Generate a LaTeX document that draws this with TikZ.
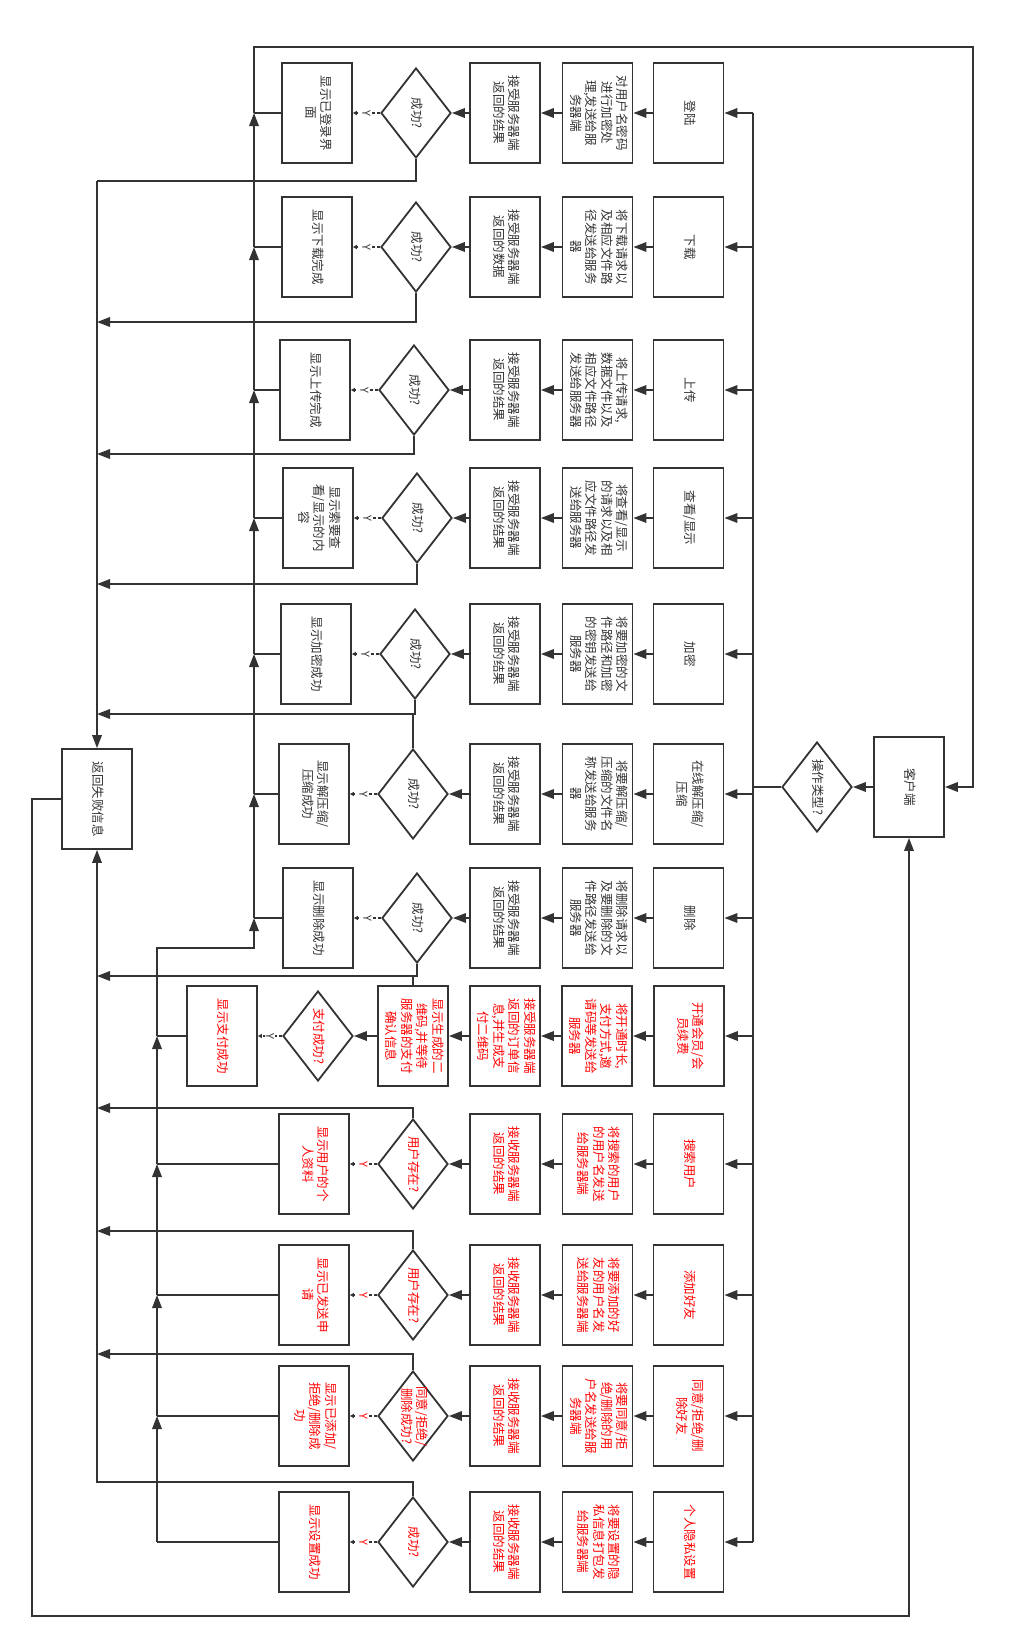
\documentclass[tikz,border=0pt]{standalone}
\usepackage{fontspec}
\usepackage{graphicx}
\usetikzlibrary{shapes.geometric,arrows.meta}
\newfontfamily\cjk{Noto Sans CJK SC}
\definecolor{lc}{HTML}{333333}
\definecolor{rd}{HTML}{FF0000}
\newcommand\rt[1]{\rotatebox{-90}{\begin{tabular}{@{}c@{}}#1\end{tabular}}}
% #1 name, #2 y, #3 colour, #4 dx, #5 op, #6 process, #7 receive, #8 decision, #9 result
\newcommand\flowrow[9]{%
 \node[box,text=#3] (op#1) at (688.5,#2) {\rt{#5}};
 \node[box,text=#3] (pr#1) at (597.5,#2) {\rt{#6}};
 \node[box,text=#3] (rc#1) at (505,#2) {\rt{#7}};
 \node[dia] (dm#1) at ({416+#4},#2) {};
 \node[text=#3] (dmt#1) at (dm#1.center) {\rt{#8}};
 \node[box,text=#3] (rs#1) at ({317+#4},#2) {\rt{#9}};
 \coordinate (b#1) at (753,#2);
 \draw[arr] (b#1) -- (op#1.east);
 \draw[arr] (op#1.west) -- (pr#1.east);
 \draw[arr] (pr#1.west) -- (rc#1.east);
 \draw[arr] (rc#1.west) -- (dm#1.east);
 \draw[ydash] (dm#1.west) -- node[ylab,text=#3] (y#1) {\rotatebox{-90}{Y}} (rs#1.east);
}
\begin{document}
\begin{tikzpicture}[x=1pt,y=-1pt,
 every node/.style={font=\cjk\fontsize{12.5}{15.5}\selectfont},
 box/.style={draw=lc, line width=1.8pt, minimum width=70pt, minimum height=100pt, inner sep=0pt, text=lc},
 dia/.style={diamond, draw=lc, line width=1.8pt, minimum width=70pt, minimum height=90pt, inner sep=0pt},
 ln/.style={draw=lc, line width=1.8pt},
 arr/.style={ln, -{Triangle[length=13pt,width=9.5pt]}},
 ydash/.style={draw=lc, line width=1.4pt, dash pattern=on 3pt off 2.5pt, -{Triangle[length=4pt,width=4pt]}},
 ylab/.style={fill=white, inner sep=1pt, font=\cjk\fontsize{11}{13}\selectfont},
]
\fill[white] (0,0) rectangle (1022,1647);
\useasboundingbox (0,0) rectangle (1022,1647);

% client, decision, failure box
\node[box] (client) at (909,787) {\rt{客户端}};
\node[dia] (dm0) at (817,787) {};
\node[text=lc] (dmt0) at (dm0.center) {\rt{操作类型?}};
\node[box] (fail) at (97,799) {\rt{返回失败信息}};

\flowrow{1}{113}{lc}{0}{登陆}{对用户名密码\\进行加密处\\理,发送给服\\务器端}{接受服务器端\\返回的结果}{成功?}{显示已登录界\\面}
\flowrow{2}{247}{lc}{0}{下载}{将下载请求以\\及相应文件路\\径发送给服务\\器}{接受服务器端\\返回的数据}{成功?}{显示下载完成}
\flowrow{3}{390}{lc}{-2}{上传}{将上传请求,\\数据文件以及\\相应文件路径\\发送给服务器}{接受服务器端\\返回的结果}{成功?}{显示上传完成}
\flowrow{4}{518}{lc}{1}{查看/显示}{将查看/显示\\的请求以及相\\应文件路径发\\送给服务器}{接受服务器端\\返回的结果}{成功?}{显示索要查\\看/显示的内\\容}
\flowrow{5}{654}{lc}{-1}{加密}{将要加密的文\\件路径和加密\\的密钥发送给\\服务器}{接受服务器端\\返回的结果}{成功?}{显示加密成功}
\flowrow{6}{794}{lc}{-3}{在线解压缩/\\压缩}{将要解压缩/\\压缩的文件名\\称发送给服务\\器}{接受服务器端\\返回的结果}{成功?}{显示解压缩/\\压缩成功}
\flowrow{7}{918}{lc}{1}{删除}{将删除请求以\\及要删除的文\\件路径发送给\\服务器}{接受服务器端\\返回的结果}{成功?}{显示删除成功}

% row 8 (membership)
\node[box,text=rd] (op8) at (689,1036) {\rt{开通会员/会\\员续费}};
\node[box,text=rd] (pr8) at (597,1036) {\rt{将开通时长,\\支付方式,邀\\请码等发送给\\服务器}};
\node[box,text=rd] (rc8) at (505,1036) {\rt{接受服务器端\\返回的订单信\\息,并生成支\\付二维码}};
\node[box,text=rd] (qr8) at (413,1036) {\rt{显示生成的二\\维码,并等待\\服务器的支付\\确认信息}};
\node[dia] (dm8) at (318,1036) {};
\node[text=rd] (dmt8) at (dm8.center) {\rt{支付成功?}};
\node[box,text=rd] (rs8) at (222,1036) {\rt{显示支付成功}};
\coordinate (b8) at (753,1036);
\draw[arr] (b8) -- (op8.east);
\draw[arr] (op8.west) -- (pr8.east);
\draw[arr] (pr8.west) -- (rc8.east);
\draw[arr] (rc8.west) -- (qr8.east);
\draw[arr] (qr8.west) -- (dm8.east);
\draw[ydash] (dm8.west) -- node[ylab,text=lc] (y8) {\rotatebox{-90}{Y}} (rs8.east);

\flowrow{9}{1164}{rd}{-3}{搜索用户}{将搜索的用户\\的用户名发送\\给服务器端}{接收服务器端\\返回的结果}{用户存在?}{显示用户的个\\人资料}
\flowrow{10}{1295}{rd}{-3}{添加好友}{将要添加的好\\友的用户名发\\送给服务器端}{接收服务器端\\返回的结果}{用户存在?}{显示已发送申\\请}
\flowrow{11}{1416}{rd}{-3}{同意/拒绝/删\\除好友}{将要同意/拒\\绝/删除的用\\户名发送给服\\务器端}{接收服务器端\\返回的结果}{同意/拒绝/\\删除成功?}{显示已添加/\\拒绝/删除成\\功}
\flowrow{12}{1542}{rd}{-3}{个人隐私设置}{将要设置的隐\\私信息打包发\\给服务器端}{接收服务器端\\返回的结果}{成功?}{显示设置成功}

% dispatch bus
\draw[ln] (b1) -- (b12);
\draw[ln] (dm0.west) -- (dm0.west -| b1);
\draw[arr] (client.west) -- (dm0.east);

% success path (rows 1-7)
\foreach \i/\yy in {1/113,2/247,3/390,4/518,5/654,6/794,7/918}{
  \coordinate (s\i) at (254,\yy);
}
\foreach \i in {1,...,7}{ \draw[ln] (rs\i.west) -- (s\i); }
\foreach \i/\j in {2/1,3/2,4/3,5/4,6/5,7/6}{ \draw[arr] (s\i) -- (s\j); }
\coordinate (t1) at (254,47);
\coordinate (t2) at (973,47);
\draw[arr] (s1) -- (t1) -- (t2) |- (client.east);

% success path (rows 8-12)
\foreach \i/\yy in {8/1036,9/1164,10/1295,11/1416,12/1542}{
  \coordinate (k\i) at (157,\yy);
}
\foreach \i in {8,...,12}{ \draw[ln] (rs\i.west) -- (k\i); }
\foreach \i/\j in {9/8,10/9,11/10,12/11}{ \draw[arr] (k\i) -- (k\j); }
\coordinate (m) at (157,948);
\draw[arr] (k8) -- (m) -- (m -| s7) -- (s7);

% failure paths
\coordinate (f1) at (97,181);
\coordinate (f2) at (97,322);
\coordinate (f3) at (97,454);
\coordinate (f4) at (97,584);
\coordinate (f5) at (97,714);
\coordinate (f7) at (97,976);
\coordinate (f9) at (97,1108);
\coordinate (f10) at (97,1231);
\coordinate (f11) at (97,1354);
\coordinate (f12) at (97,1482);
\draw[ln] (dm1.south) |- (f1);
\draw[arr] (f1) -- (fail.north);
\foreach \i in {2,3,4,5,7}{ \draw[arr] (dm\i.south) |- (f\i); }
\draw[ln] (dm6.north) -- (dm6.north |- f5);
\draw[ln] (qr8.north) -- (qr8.north |- f7);
\foreach \i in {9,10,11}{ \draw[arr] (dm\i.north) |- (f\i); }
\draw[arr] (dm12.north) |- (f12) -- (fail.south);

% failure back to client
\coordinate (l1) at (32,799);
\coordinate (l2) at (32,1616);
\draw[arr] (fail.west) -- (l1) -- (l2) -| (client.south);
\end{tikzpicture}
\end{document}
